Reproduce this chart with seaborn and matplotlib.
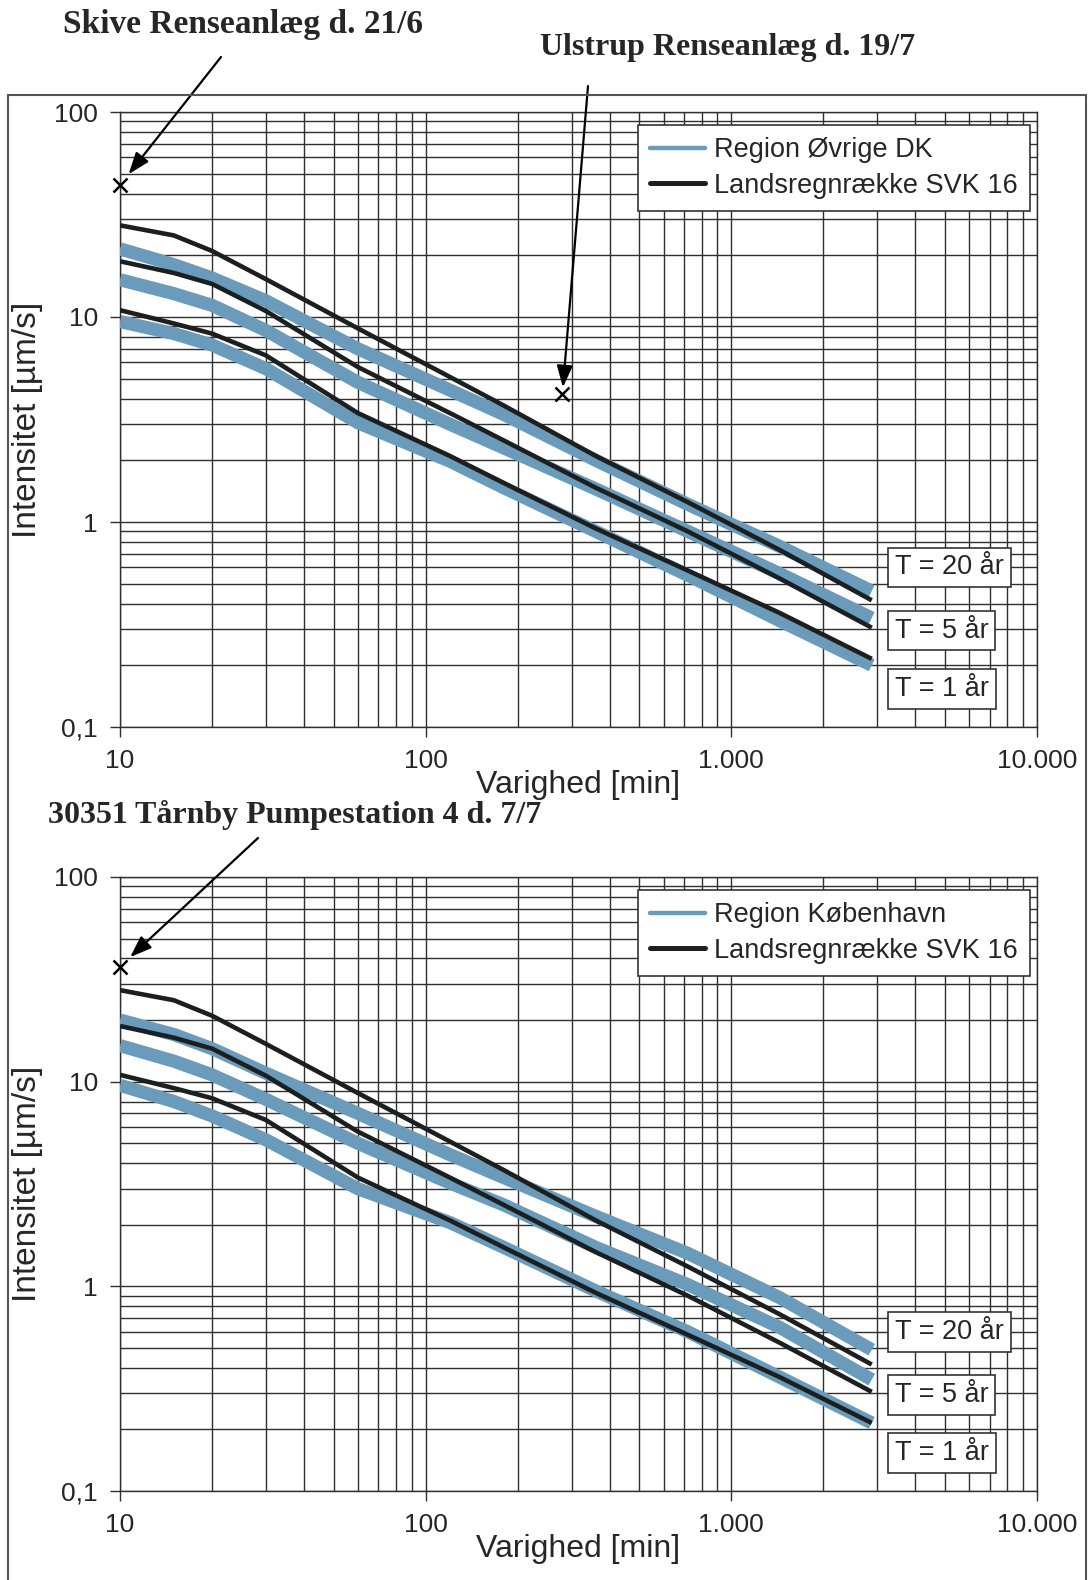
import numpy as np
import pandas as pd
import matplotlib
matplotlib.use("Agg")
import matplotlib.pyplot as plt
import seaborn as sns
from matplotlib.lines import Line2D
from matplotlib.patches import Rectangle
from matplotlib.ticker import FixedLocator, FixedFormatter, LogLocator, NullFormatter

# ------------------------------------------------------------------
# Data
# ------------------------------------------------------------------
varighed = [10, 15, 20, 30, 60, 120, 180, 360, 720, 1440, 2880]  # min

# Landsregnrække SVK 16 (identical in both panels), µm/s
svk_t1 = [10.8, 9.3, 8.3, 6.5, 3.4, 2.1, 1.55, 0.93, 0.58, 0.36, 0.215]
svk_t5 = [18.7, 16.4, 14.5, 10.7, 5.7, 3.4, 2.5, 1.47, 0.90, 0.53, 0.305]
svk_t20 = [28.0, 25.0, 21.0, 15.3, 8.8, 5.1, 3.7, 2.1, 1.25, 0.73, 0.415]

# Region Øvrige DK
dk_t1 = [9.5, 8.3, 7.3, 5.6, 3.05, 1.98, 1.47, 0.90, 0.55, 0.33, 0.20]
dk_t5 = [15.2, 13.0, 11.4, 8.6, 4.8, 3.0, 2.3, 1.45, 0.90, 0.56, 0.34]
dk_t20 = [21.5, 18.0, 15.5, 12.0, 7.0, 4.4, 3.35, 2.0, 1.22, 0.76, 0.46]

# Region København
kbh_t1 = [9.6, 8.0, 6.8, 5.2, 3.0, 2.05, 1.55, 0.95, 0.60, 0.36, 0.215]
kbh_t5 = [15.0, 12.6, 10.8, 8.2, 5.0, 3.2, 2.5, 1.55, 1.02, 0.63, 0.35]
kbh_t20 = [20.0, 17.0, 14.5, 11.0, 7.0, 4.4, 3.4, 2.2, 1.45, 0.88, 0.49]

# Observed events (varighed, intensitet)
skive_event = (10, 44.0)
ulstrup_event = (280, 4.2)
taarnby_event = (10, 36.5)

x_ticks = [10, 100, 1000, 10000]
x_ticklabels = ["10", "100", "1.000", "10.000"]
y_ticks = [0.1, 1, 10, 100]
y_ticklabels = ["0,1", "1", "10", "100"]
t_labels = ["T = 20 år", "T = 5 år", "T = 1 år"]
t_label_y = [0.60, 0.295, 0.153]

BLUE = "#6b9bba"
BLACK = "#1c1f1f"
GRID = "#2f2f2f"

sns.set_theme(style="white")
plt.rcParams["font.family"] = ["Liberation Sans", "DejaVu Sans"]

W, H = 1089, 1580
fig = plt.figure(figsize=(W / 100, H / 100), dpi=100)


def fx(px):
    return px / W


def fy(py):
    return 1 - py / H


def long_frame(region_series):
    rows = []
    for serie, values in region_series.items():
        for d, v in zip(varighed, values):
            rows.append({"varighed": d, "intensitet": v, "serie": serie})
    return pd.DataFrame(rows)


def draw_panel(ax, region_name, region_vals):
    blue_df = long_frame({f"{region_name} T{t}": v for t, v in zip([1, 5, 20], region_vals)})
    black_df = long_frame({f"SVK T{t}": v for t, v in zip([1, 5, 20], [svk_t1, svk_t5, svk_t20])})

    sns.lineplot(data=blue_df, x="varighed", y="intensitet", units="serie", estimator=None,
                 color=BLUE, lw=9.5, solid_capstyle="butt", ax=ax, zorder=3)
    sns.lineplot(data=black_df, x="varighed", y="intensitet", units="serie", estimator=None,
                 color=BLACK, lw=3.3, solid_capstyle="butt", ax=ax, zorder=4)

    ax.set_xscale("log")
    ax.set_yscale("log")
    ax.set_xlim(10, 10000)
    ax.set_ylim(0.1, 100)

    ax.xaxis.set_major_locator(FixedLocator(x_ticks))
    ax.xaxis.set_major_formatter(FixedFormatter(x_ticklabels))
    ax.yaxis.set_major_locator(FixedLocator(y_ticks))
    ax.yaxis.set_major_formatter(FixedFormatter(y_ticklabels))
    ax.xaxis.set_minor_locator(LogLocator(base=10, subs=np.arange(2, 10)))
    ax.yaxis.set_minor_locator(LogLocator(base=10, subs=np.arange(2, 10)))
    ax.xaxis.set_minor_formatter(NullFormatter())
    ax.yaxis.set_minor_formatter(NullFormatter())

    ax.grid(True, which="both", color=GRID, lw=1.0, zorder=1)
    ax.set_axisbelow(True)
    ax.tick_params(which="major", direction="out", length=7, width=1.0, color=GRID,
                   labelsize=19, bottom=True, left=True)
    ax.tick_params(axis="x", which="major", pad=9)
    ax.tick_params(axis="y", which="major", pad=9)
    ax.tick_params(which="minor", length=0)
    for sp in ax.spines.values():
        sp.set_color(GRID)
        sp.set_linewidth(1.0)

    ax.set_xlabel("Varighed [min]", fontsize=23, labelpad=-2)
    ax.set_ylabel("Intensitet [µm/s]", fontsize=24, labelpad=8)

    handles = [Line2D([], [], color=BLUE, lw=3.2), Line2D([], [], color=BLACK, lw=3.6)]
    leg = ax.legend(handles, [region_name, "Landsregnrække SVK 16"], loc="upper right",
                    bbox_to_anchor=(0.9924, 0.979), borderaxespad=0, fontsize=19.5,
                    frameon=True, fancybox=False, framealpha=1, edgecolor="#333333",
                    handlelength=2.0, handletextpad=0.35, labelspacing=0.35, borderpad=0.45)
    leg.get_frame().set_linewidth(1.2)

    trans = ax.get_yaxis_transform()
    for label, yv in zip(t_labels, t_label_y):
        ax.text(0.845, yv, label, transform=trans, ha="left", va="center", fontsize=19.5,
                zorder=6, bbox=dict(boxstyle="square,pad=0.25", fc="white", ec="#333333", lw=1.2))


ax_top = fig.add_axes([fx(120), fy(727), fx(1037) - fx(120), fy(112) - fy(727)])
ax_bot = fig.add_axes([fx(120), fy(1491), fx(1037) - fx(120), fy(877) - fy(1491)])

draw_panel(ax_top, "Region Øvrige DK", [dk_t1, dk_t5, dk_t20])
draw_panel(ax_bot, "Region København", [kbh_t1, kbh_t5, kbh_t20])

# Events with arrows and captions
serif = ["Liberation Serif", "DejaVu Serif"]
arrow = dict(arrowstyle="-|>,head_length=0.6,head_width=0.22", color="black", lw=1.6,
             mutation_scale=22, shrinkA=0)

for ax, (ex, ey), caption, size, txt_xy, tail_xy, shrink in [
    (ax_top, skive_event, "Skive Renseanlæg d. 21/6", 24, (63, 25), (221, 57), 10),
    (ax_top, ulstrup_event, "Ulstrup Renseanlæg d. 19/7", 23, (540, 47), (588, 86), 5),
    (ax_bot, taarnby_event, "30351 Tårnby Pumpestation 4 d. 7/7", 23, (48, 815), (258, 838), 10),
]:
    ax.plot([ex], [ey], marker="x", color="black", ms=10, mew=1.8, ls="none", zorder=7,
            clip_on=False)
    fig.text(fx(txt_xy[0]), fy(txt_xy[1]), caption, ha="left", va="center",
             family=serif, weight="bold", fontsize=size)
    ax.annotate("", xy=(ex, ey), xycoords="data", xytext=(fx(tail_xy[0]), fy(tail_xy[1])),
                textcoords="figure fraction", arrowprops=dict(arrow, shrinkB=shrink),
                annotation_clip=False, zorder=8)

# Outer frame of the figure
fig.add_artist(Rectangle((fx(8), -0.01), fx(1086) - fx(8), fy(95) + 0.01,
                         transform=fig.transFigure, fill=False, ec="#555555", lw=1.5))

fig.savefig("out.png", dpi=100)
